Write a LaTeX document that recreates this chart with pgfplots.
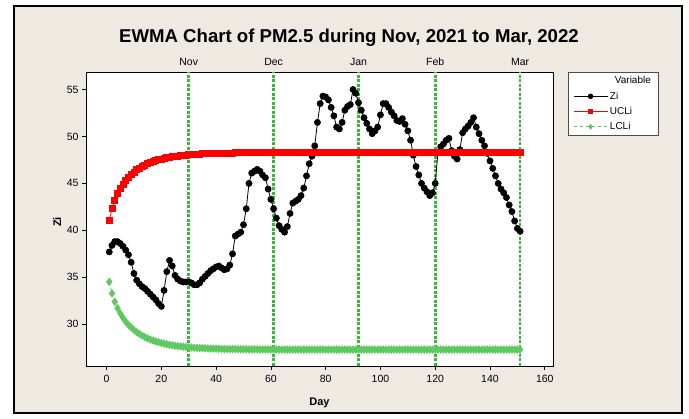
\documentclass[border=0pt]{standalone}
\usepackage{pgfplots}
\pgfplotsset{compat=1.18}
\usepackage{pgfplotstable}
\usepackage{fontspec}
\setmainfont{Liberation Sans}
\definecolor{bg}{RGB}{238,234,226}
\definecolor{uclc}{RGB}{255,0,0}
\definecolor{lclc}{RGB}{95,200,95}
\definecolor{vlc}{RGB}{55,185,55}

\pgfplotstableread{
d z u l
1 37.7 41.08 34.52
2 38.4 42.32 33.28
3 38.8 43.20 32.40
4 38.8 43.89 31.71
5 38.6 44.45 31.15
6 38.3 44.92 30.68
7 37.9 45.32 30.28
8 37.4 45.66 29.94
9 36.6 45.95 29.65
10 35.4 46.21 29.39
11 34.7 46.44 29.16
12 34.3 46.63 28.97
13 34.0 46.81 28.79
14 33.8 46.97 28.63
15 33.5 47.11 28.49
16 33.2 47.23 28.37
17 32.9 47.34 28.26
18 32.6 47.44 28.16
19 32.2 47.52 28.08
20 31.9 47.60 28.00
21 33.6 47.67 27.93
22 35.6 47.74 27.86
23 36.8 47.79 27.81
24 36.2 47.84 27.76
25 35.2 47.89 27.71
26 34.8 47.93 27.67
27 34.6 47.97 27.63
28 34.5 48.00 27.60
29 34.5 48.03 27.57
30 34.5 48.06 27.54
31 34.4 48.08 27.52
32 34.2 48.10 27.50
33 34.2 48.12 27.48
34 34.4 48.14 27.46
35 34.8 48.15 27.45
36 35.1 48.17 27.43
37 35.4 48.18 27.42
38 35.7 48.19 27.41
39 35.9 48.20 27.40
40 36.1 48.21 27.39
41 36.2 48.22 27.38
42 36.0 48.23 27.37
43 35.8 48.24 27.36
44 35.9 48.24 27.36
45 36.3 48.25 27.35
46 37.5 48.25 27.35
47 39.4 48.26 27.34
48 39.6 48.26 27.34
49 39.8 48.27 27.33
50 40.6 48.27 27.33
51 42.3 48.27 27.33
52 45.0 48.28 27.32
53 46.1 48.28 27.32
54 46.3 48.28 27.32
55 46.5 48.28 27.32
56 46.3 48.29 27.31
57 45.9 48.29 27.31
58 45.6 48.29 27.31
59 44.4 48.29 27.31
60 43.3 48.29 27.31
61 42.3 48.30 27.30
62 41.3 48.30 27.30
63 40.5 48.30 27.30
64 40.1 48.30 27.30
65 39.8 48.30 27.30
66 40.4 48.30 27.30
67 41.8 48.30 27.30
68 42.9 48.30 27.30
69 43.1 48.30 27.30
70 43.3 48.30 27.30
71 43.7 48.30 27.30
72 44.5 48.30 27.30
73 45.8 48.30 27.30
74 47.1 48.30 27.30
75 47.9 48.30 27.30
76 49.0 48.30 27.30
77 51.5 48.30 27.30
78 53.5 48.30 27.30
79 54.3 48.30 27.30
80 54.2 48.30 27.30
81 53.9 48.30 27.30
82 53.1 48.30 27.30
83 52.2 48.30 27.30
84 51.0 48.30 27.30
85 50.8 48.30 27.30
86 51.5 48.30 27.30
87 52.8 48.30 27.30
88 53.2 48.30 27.30
89 53.4 48.30 27.30
90 55.0 48.30 27.30
91 54.6 48.30 27.30
92 53.6 48.30 27.30
93 52.8 48.30 27.30
94 52.0 48.30 27.30
95 51.4 48.30 27.30
96 50.8 48.30 27.30
97 50.3 48.30 27.30
98 50.6 48.30 27.30
99 51.0 48.30 27.30
100 52.3 48.30 27.30
101 53.5 48.30 27.30
102 53.5 48.30 27.30
103 53.1 48.30 27.30
104 52.6 48.30 27.30
105 52.2 48.30 27.30
106 51.7 48.30 27.30
107 51.6 48.30 27.30
108 51.9 48.30 27.30
109 51.3 48.30 27.30
110 50.6 48.30 27.30
111 49.6 48.30 27.30
112 48.0 48.30 27.30
113 46.8 48.30 27.30
114 45.9 48.30 27.30
115 45.0 48.30 27.30
116 44.5 48.30 27.30
117 44.1 48.30 27.30
118 43.7 48.30 27.30
119 44.0 48.30 27.30
120 45.0 48.30 27.30
121 48.3 48.30 27.30
122 48.9 48.30 27.30
123 49.2 48.30 27.30
124 49.6 48.30 27.30
125 49.8 48.30 27.30
126 48.5 48.30 27.30
127 47.9 48.30 27.30
128 47.6 48.30 27.30
129 48.6 48.30 27.30
130 50.4 48.30 27.30
131 50.8 48.30 27.30
132 51.1 48.30 27.30
133 51.5 48.30 27.30
134 52.0 48.30 27.30
135 51.0 48.30 27.30
136 50.3 48.30 27.30
137 49.6 48.30 27.30
138 49.0 48.30 27.30
139 48.2 48.30 27.30
140 47.4 48.30 27.30
141 46.6 48.30 27.30
142 45.8 48.30 27.30
143 45.0 48.30 27.30
144 44.4 48.30 27.30
145 44.0 48.30 27.30
146 43.5 48.30 27.30
147 42.7 48.30 27.30
148 42.0 48.30 27.30
149 41.0 48.30 27.30
150 40.2 48.30 27.30
151 39.9 48.30 27.30
}\data

\begin{document}
\begin{tikzpicture}[x=1pt,y=1pt]
\useasboundingbox (0,0) rectangle (689,419);
\fill[white] (0,0) rectangle (689,419);
\filldraw[fill=bg,draw=black,line width=1.2pt] (14,6) rectangle (682,413);
\node[font=\bfseries\fontsize{18.6}{20}\selectfont, anchor=base] at (349,376) {EWMA Chart of PM2.5 during Nov, 2021 to Mar, 2022};
\begin{axis}[
  at={(86pt,53pt)}, anchor=south west, scale only axis,
  width=467pt, height=294pt,
  xmin=-7.5, xmax=163, ymin=25.55, ymax=56.87,
  axis background/.style={fill=white},
  xtick={0,20,...,160}, ytick={30,35,...,55},
  tick align=outside, xtick pos=bottom, ytick pos=left,
  major tick length=4pt,
  tick style={black, line width=0.6pt},
  axis line style={black, line width=0.8pt},
  tick label style={font=\fontsize{10.5}{12}\selectfont},
  xticklabel style={yshift=-2pt},
  /pgf/number format/assume math mode=true,
  xlabel={\textbf{Day}}, ylabel={\textbf{Zi}},
  label style={font=\fontsize{11}{13}\selectfont},
  xlabel style={at={(axis description cs:0.5,-0.133)}, anchor=base},
  ylabel style={at={(axis description cs:-0.062,0.49)}, anchor=center},
  clip=false,
  legend style={at={(1.032,1)}, anchor=north west, draw=black!70, fill=white,
    font=\fontsize{10}{11}\selectfont, inner xsep=5pt, inner ysep=2.5pt, row sep=2.5pt,
    cells={anchor=west},
    /tikz/every even column/.append style={column sep=6pt}},
  legend image code/.code={\draw[mark repeat=2,mark phase=2,#1] plot coordinates {(0pt,0pt) (17pt,0pt) (34pt,0pt)};},
  legend image post style={mark size=2.3pt},
]
\addplot[vlc, line width=2.6pt, dash pattern=on 3pt off 1.5pt, forget plot] coordinates {(30,25.55) (30,56.87)};
\addplot[vlc, line width=2.6pt, dash pattern=on 3pt off 1.5pt, forget plot] coordinates {(61,25.55) (61,56.87)};
\addplot[vlc, line width=2.6pt, dash pattern=on 3pt off 1.5pt, forget plot] coordinates {(92,25.55) (92,56.87)};
\addplot[vlc, line width=2.6pt, dash pattern=on 3pt off 1.5pt, forget plot] coordinates {(120,25.55) (120,56.87)};
\addplot[vlc, line width=2.6pt, dash pattern=on 3pt off 1.5pt, forget plot] coordinates {(151,25.55) (151,56.87)};
\addlegendimage{empty legend}
\addlegendentry{\hspace{5pt}Variable\hspace{12pt}}
\addplot[black, line width=0.8pt, mark=*, mark size=3pt, mark options={solid}] table[x=d,y=z] {\data};
\addlegendentry{Zi}
\addplot[uclc, line width=0.8pt, mark=square*, mark size=3pt, mark options={solid}] table[x=d,y=u] {\data};
\addlegendentry{UCLi}
\addplot[lclc, line width=0.8pt, dashed, mark=diamond*, mark size=3.6pt, mark options={solid}] table[x=d,y=l] {\data};
\addlegendentry{LCLi}
\node[font=\fontsize{10.5}{12}\selectfont, anchor=base] at (axis cs:30,56.87) [yshift=6pt] {Nov};
\node[font=\fontsize{10.5}{12}\selectfont, anchor=base] at (axis cs:61,56.87) [yshift=6pt] {Dec};
\node[font=\fontsize{10.5}{12}\selectfont, anchor=base] at (axis cs:92,56.87) [yshift=6pt] {Jan};
\node[font=\fontsize{10.5}{12}\selectfont, anchor=base] at (axis cs:120,56.87) [yshift=6pt] {Feb};
\node[font=\fontsize{10.5}{12}\selectfont, anchor=base] at (axis cs:151,56.87) [yshift=6pt] {Mar};
\end{axis}
\end{tikzpicture}
\end{document}
